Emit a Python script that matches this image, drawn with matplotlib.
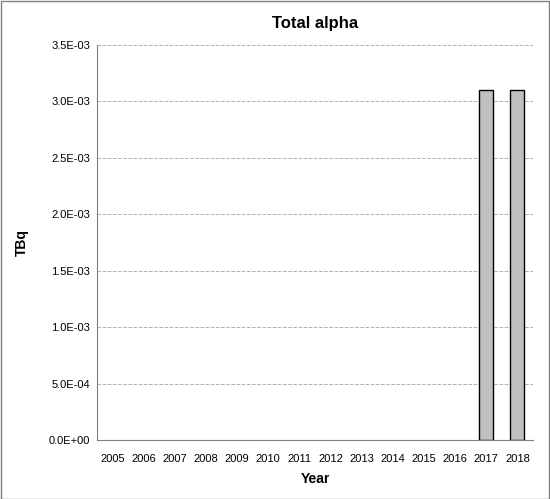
import matplotlib
matplotlib.use("Agg")
import matplotlib.pyplot as plt
from matplotlib.ticker import FuncFormatter

years = [str(y) for y in range(2005, 2019)]
values = [0]*12 + [3.1e-3, 3.1e-3]

plt.rcParams['font.family'] = ['Liberation Sans', 'DejaVu Sans']
fig = plt.figure(figsize=(5.5, 4.99), dpi=100)
ax = fig.add_axes([97/550, 1-440/499, (533-97)/550, (440-45)/499])
x = range(len(years))
lws = [1 if v > 0 else 0 for v in values]
ax.bar(x, values, width=0.45, color='#c0c0c0', edgecolor='black', linewidth=lws, zorder=3)
ax.set_xlim(-0.5, len(years)-0.5)
ax.set_ylim(0, 3.5e-3)
ax.set_yticks([i*5e-4 for i in range(8)])
ax.yaxis.set_major_formatter(FuncFormatter(lambda v, p: f"{v:.1E}"))
ax.set_xticks(list(x))
ax.set_xticklabels(years)
ax.tick_params(labelsize=8, length=0)
ax.tick_params(axis='x', pad=10)
ax.tick_params(axis='y', pad=5)
ax.grid(axis='y', linestyle='--', color='#b0b0b0', linewidth=0.7, zorder=0)
for s in ['top', 'right']:
    ax.spines[s].set_visible(False)
ax.spines['left'].set_color('#808080')
ax.spines['bottom'].set_color('#808080')
ax.set_title('Total alpha', fontsize=12, fontweight='bold', pad=12)
ax.set_xlabel('Year', fontsize=10, fontweight='bold', labelpad=6)
ax.set_ylabel('TBq', fontsize=10, fontweight='bold', labelpad=14)
fig.patches.append(plt.Rectangle((0.001, 0.001), 0.997, 0.997, transform=fig.transFigure, fill=False, edgecolor='#808080', linewidth=1))
fig.savefig('out.png', dpi=100)
